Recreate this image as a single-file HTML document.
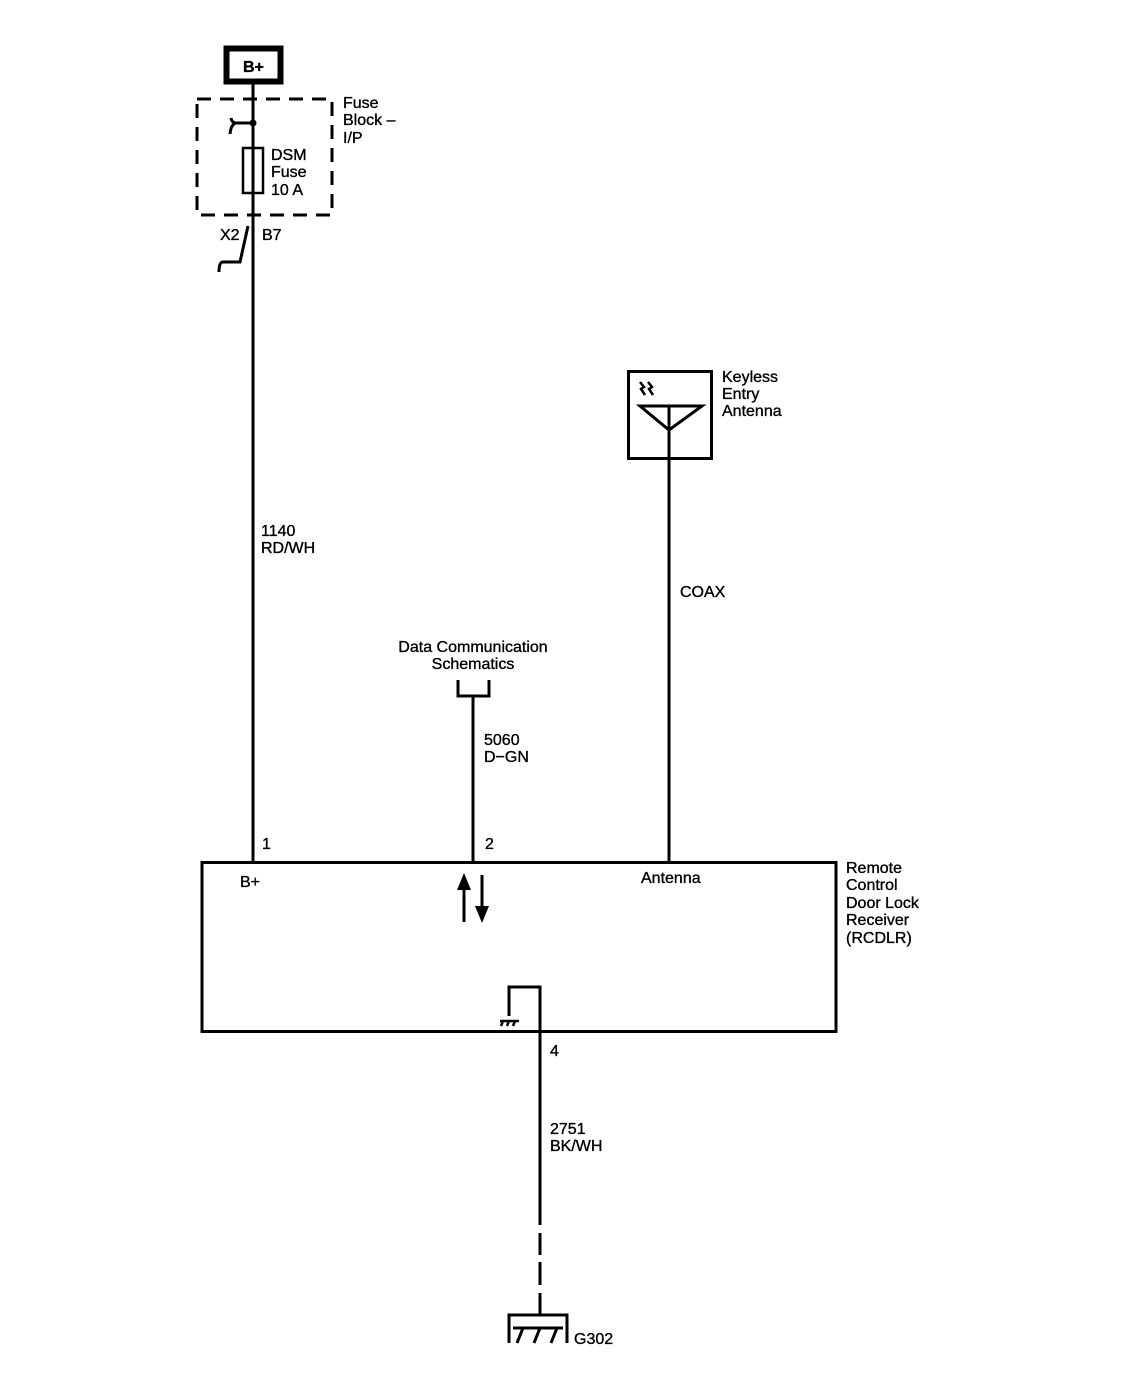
<!DOCTYPE html>
<html><head><meta charset="utf-8"><style>
html,body{margin:0;padding:0;background:#fff;}
svg text{font-family:"Liberation Sans",Arial,sans-serif;font-size:16px;fill:#000;stroke:#000;stroke-width:0.35;}
</style></head><body>
<svg width="1148" height="1392" viewBox="0 0 1148 1392" xmlns="http://www.w3.org/2000/svg">
<g fill="none" stroke="#000" stroke-width="3">
<rect x="226.5" y="48.5" width="54" height="33" stroke-width="6"/>
<rect x="197" y="99" width="135" height="116" stroke-dasharray="14,9"/>
<line x1="253" y1="82" x2="253" y2="862"/>
<path d="M253 123 H236 Q232 123 231 118 M236 123 Q231 124 230 134"/>
<rect x="243" y="148" width="20" height="45" stroke-width="2.5"/>
<path d="M248 226 L240 262 H223 Q219 262 219 272"/>
<rect x="628.5" y="371.5" width="83" height="87"/>
<path d="M640 406 H702 L669 430 Z" stroke-width="3" stroke-linejoin="miter"/>
<line x1="669" y1="406" x2="669" y2="862"/>
<path d="M640 382 l4 5 -3 2 4 6 M648 382 l4 5 -3 2 4 6" stroke-width="2.5"/>
<path d="M458 680 V696 H489 V680"/>
<line x1="473" y1="696" x2="473" y2="862"/>
<rect x="202" y="862.5" width="634" height="169"/>
<path d="M509 1016 V987 H540 V1040"/>
<line x1="540" y1="1032" x2="540" y2="1225"/>
<path d="M540 1233 V1255 M540 1262 V1285 M540 1293 V1315"/>
<path d="M509 1343 V1315 H567 V1343"/>
<line x1="464" y1="922" x2="464" y2="888"/>
<line x1="482" y1="875" x2="482" y2="908"/>
<path d="M500 1021 H519 M503 1021 l-2 5 M509 1021 l-2 5 M515 1021 l-2 5" stroke-width="2.5"/>
<path d="M513 1328 H563 M523 1328 l-6 15 M540 1328 l-6 15 M557 1328 l-6 15" stroke-width="3"/>
</g>
<circle cx="253" cy="123" r="3.5"/>
<polygon points="457,890 471,890 464,873"/>
<polygon points="475,906 489,906 482,923"/>
<text x="243" y="72" font-weight="bold">B+</text>
<text x="343" y="108">Fuse</text><text x="343" y="125">Block –</text><text x="343" y="143">I/P</text>
<text x="271" y="160">DSM</text><text x="271" y="177">Fuse</text><text x="271" y="195">10 A</text>
<text x="220" y="240">X2</text><text x="262" y="240">B7</text>
<text x="261" y="536">1140</text><text x="261" y="553">RD/WH</text>
<text x="722" y="382">Keyless</text><text x="722" y="399">Entry</text><text x="722" y="416">Antenna</text>
<text x="680" y="597">COAX</text>
<text x="473" y="652" text-anchor="middle">Data Communication</text>
<text x="473" y="669" text-anchor="middle">Schematics</text>
<text x="484" y="745">5060</text><text x="484" y="762">D−GN</text>
<text x="262" y="849">1</text><text x="485" y="849">2</text>
<text x="240" y="887">B+</text><text x="641" y="883">Antenna</text>
<text x="846" y="873">Remote</text><text x="846" y="890">Control</text><text x="846" y="908">Door Lock</text><text x="846" y="925">Receiver</text><text x="846" y="943">(RCDLR)</text>
<text x="550" y="1056">4</text>
<text x="550" y="1134">2751</text><text x="550" y="1151">BK/WH</text>
<text x="574" y="1344">G302</text>
</svg>
</body></html>
